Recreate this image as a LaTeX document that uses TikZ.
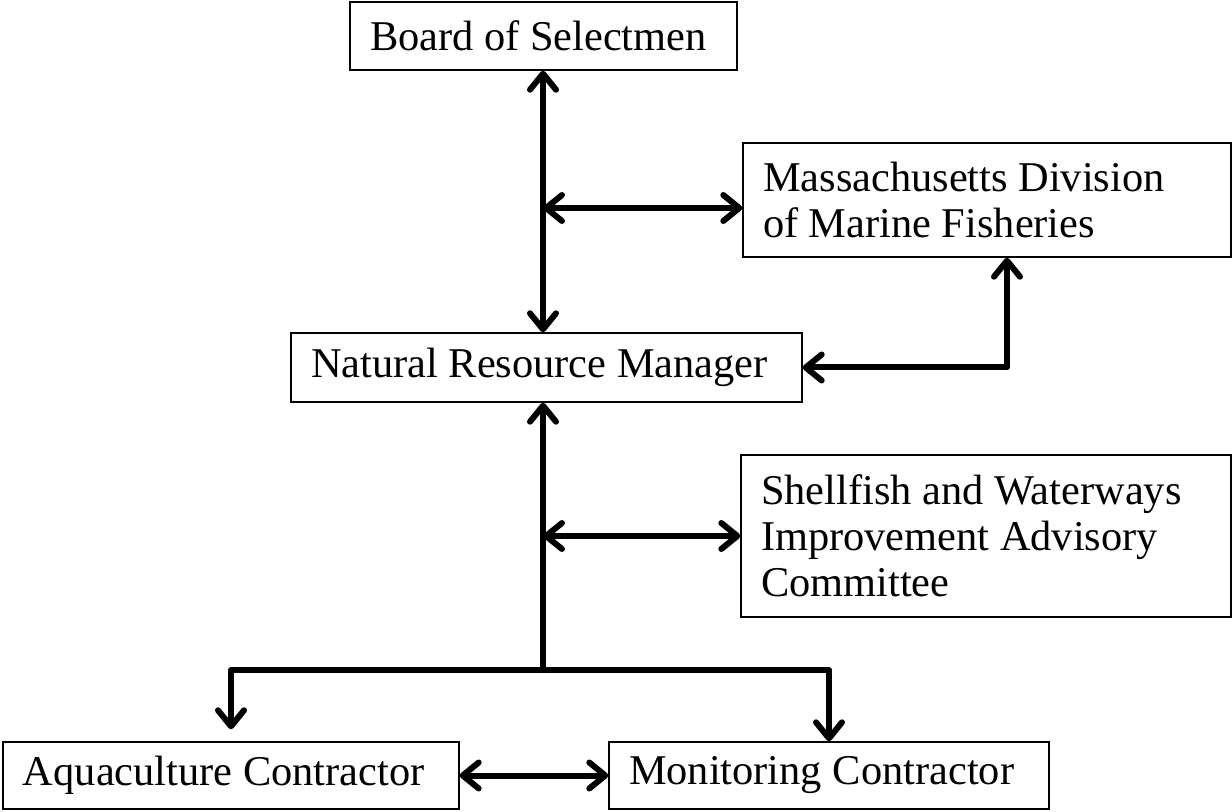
\documentclass[tikz,border=0pt]{standalone}
\usepackage{fontspec}
\setmainfont{Liberation Serif}
\usetikzlibrary{positioning, arrows.meta}

\tikzset{
  box/.style={draw, line width=0.7pt, align=left, inner xsep=10pt, inner ysep=0pt,
    font=\fontsize{21.2}{23}\selectfont,
    execute at begin node={\spaceskip=0.25em\relax\xspaceskip=0.25em\relax}},
  link/.style={line width=3pt, line cap=round, line join=round},
  >={Straight Barb[length=8pt, width=13pt, round]}
}

\begin{document}
\begin{tikzpicture}[x=0.5pt, y=-0.5pt]
  \useasboundingbox (0,0) rectangle (1232,812);

  \node[box, text width=173.5pt, minimum height=34pt] (bos) at (543.5,36) {Board of Selectmen};
  \node[box, text width=224pt, minimum height=57pt] (dmf) at (987,200)
    {Massachusetts Division\\of Marine Fisheries};
  \node[box, text width=235.5pt, minimum height=34.5pt] (nrm) at (546.5,367.5) {Natural Resource Manager};
  \node[box, text width=225pt, minimum height=81pt] (swac) at (986,536)
    {Shellfish and Waterways\\Improvement Advisory\\Committee};
  \node[box, text width=208pt, minimum height=33.5pt] (aqua) at (231,775.5) {Aquaculture Contractor};
  \node[box, text width=200pt, minimum height=33.5pt] (mon) at (829,775.5) {Monitoring Contractor};

  \coordinate (top) at (543,208);
  \coordinate (hub) at (543,670);

  \draw[link, <->] (bos.south -| top) -- (nrm.north -| top);
  \draw[link, <->] (top) -- (top -| dmf.west);
  \draw[link, <->] (nrm.east) -| ([xshift=10pt]dmf.south);

  % lower half
  \draw[link, ->] (hub) -- (nrm.south -| hub);
  \draw[link, <->] (swac.west -| hub) -- (swac.west);
  \draw[link, ->] (hub) -| ([yshift=6pt]aqua.north);
  \draw[link, ->] (hub) -| (mon.north);
  \draw[link, <->] (aqua.east) -- (mon.west);
\end{tikzpicture}
\end{document}
